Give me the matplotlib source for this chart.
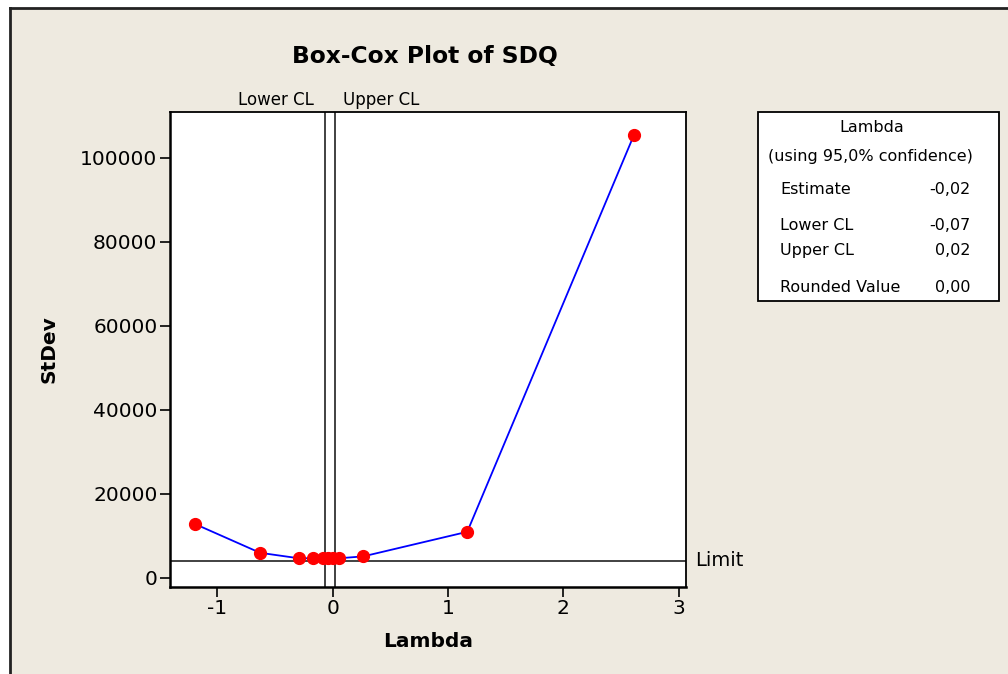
import numpy as np
import matplotlib.pyplot as plt
from matplotlib.patches import Rectangle

plt.rcParams['axes.unicode_minus'] = False

# Box-Cox search: lambda values and standard deviation of the transformed data
lam = [-1.19, -0.63, -0.295, -0.168, -0.08, -0.04, 0.0, 0.057, 0.266, 1.167, 2.613]
stdev = [12800, 6000, 4700, 4700, 4650, 4650, 4650, 4700, 5150, 11000, 105500]

limit = 4120
lower_cl = -0.07
upper_cl = 0.02

xticks = [-1, 0, 1, 2, 3]
yticks = [0, 20000, 40000, 60000, 80000, 100000]

stats_labels = ['Estimate', 'Lower CL', 'Upper CL', 'Rounded Value']
stats_values = ['-0,02', '-0,07', '0,02', '0,00']

bg = '#eeeae0'
W, H = 1008, 674

fig = plt.figure(figsize=(W / 100, H / 100), dpi=100)
fig.patch.set_facecolor('white')
# beige panel with dark top/left edge
fig.patches.append(Rectangle((10 / W, 0), 1 - 10 / W, 1 - 8 / H, transform=fig.transFigure,
                             facecolor=bg, edgecolor='none', zorder=-5))
fig.add_artist(plt.Line2D([10 / W, 10 / W], [0, 1 - 8 / H], transform=fig.transFigure,
                          color='#222222', lw=2, zorder=-4))
fig.add_artist(plt.Line2D([10 / W, 1], [1 - 8 / H, 1 - 8 / H], transform=fig.transFigure,
                          color='#222222', lw=2, zorder=-4))

ax = fig.add_axes([170 / W, 1 - 587 / H, (686 - 170) / W, (587 - 112) / H])
ax.set_facecolor('white')

ax.plot(lam, stdev, color='blue', lw=1.3, zorder=3)
ax.plot(lam, stdev, 'o', color='red', ms=8.5, zorder=4)

ax.axhline(limit, color='#333333', lw=1.3, zorder=2)
ax.axvline(lower_cl, color='#333333', lw=1.3, zorder=2)
ax.axvline(upper_cl, color='#333333', lw=1.3, zorder=2)

ax.set_xlim(-1.411, 3.064)
ax.set_ylim(-2143, 110952)
ax.set_xticks(xticks)
ax.set_yticks(yticks)
ax.tick_params(direction='out', length=7, width=1.2, labelsize=14.5, color='black', pad=2)
for s in ['top', 'right']:
    ax.spines[s].set_linewidth(1.3)
for s in ['left', 'bottom']:
    ax.spines[s].set_linewidth(1.8)

ax.set_xlabel('Lambda', fontsize=14.5, fontweight='bold', labelpad=10)
ax.set_ylabel('StDev', fontsize=14.5, fontweight='bold', labelpad=16)

ax.annotate('Lower CL', (lower_cl, 1.0), xycoords=ax.get_xaxis_transform(),
            xytext=(-8, 2), textcoords='offset points',
            ha='right', va='bottom', fontsize=12)
ax.annotate('Upper CL', (upper_cl, 1.0), xycoords=ax.get_xaxis_transform(),
            xytext=(6, 2), textcoords='offset points',
            ha='left', va='bottom', fontsize=12)
ax.text(1.018, limit, 'Limit', transform=ax.get_yaxis_transform(),
        ha='left', va='center', fontsize=14)

fig.text(425 / W, 1 - 57 / H, 'Box-Cox Plot of SDQ', ha='center', va='center',
         fontsize=16.8, fontweight='bold')

# summary box
fig.patches.append(Rectangle((758 / W, 1 - 301 / H), (999 - 758) / W, (301 - 112) / H,
                             transform=fig.transFigure, facecolor='white',
                             edgecolor='black', lw=1.3, zorder=1))
fig.text(872 / W, 1 - 127 / H, 'Lambda', ha='center', va='center', fontsize=11.5)
fig.text(870 / W, 1 - 157 / H, '(using 95,0% confidence)', ha='center', va='center', fontsize=11.5)
rows_y = [189, 226, 251, 287]
for lab, val, y in zip(stats_labels, stats_values, rows_y):
    fig.text(780 / W, 1 - y / H, lab, ha='left', va='center', fontsize=11.5)
    fig.text(971 / W, 1 - y / H, val, ha='right', va='center', fontsize=11.5)

fig.savefig('out.png', dpi=100, facecolor=fig.get_facecolor())
